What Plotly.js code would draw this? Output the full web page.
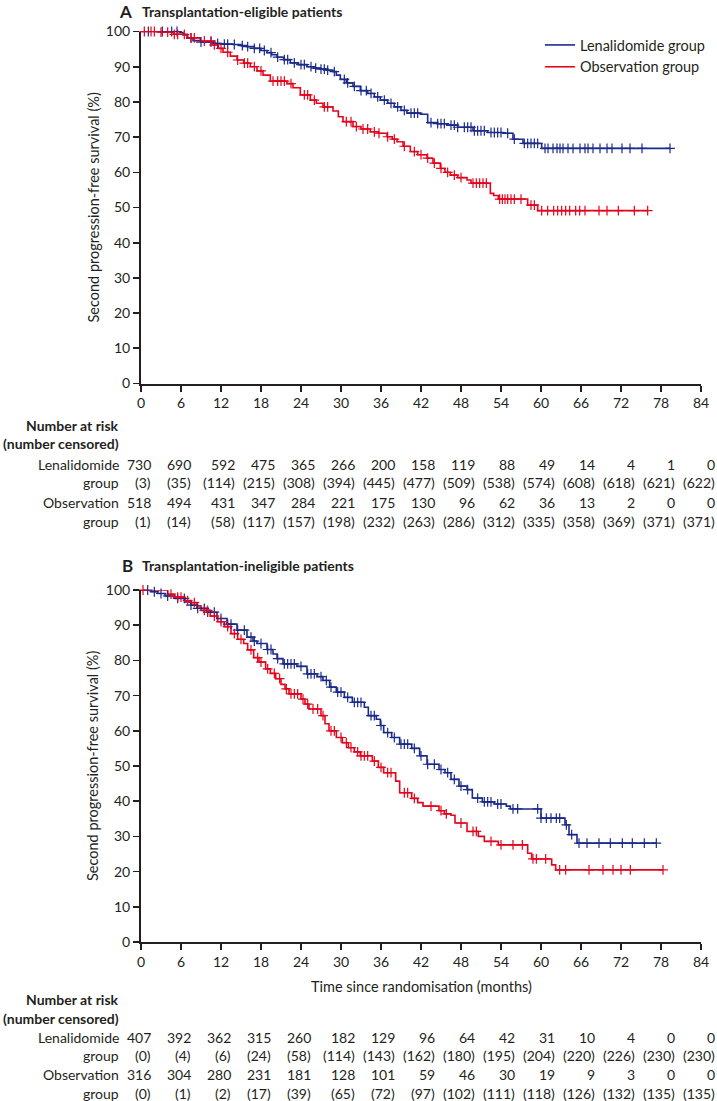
<!DOCTYPE html>
<html>
<head>
<meta charset="utf-8">
<script src="https://cdn.plot.ly/plotly-3.0.1.min.js"></script>
<style>
  html, body { margin: 0; padding: 0; background: #ffffff; }
  #chart { width: 717px; height: 1101px; }
</style>
</head>
<body>
<div id="chart"></div>
<script>
// ---------------- DATA ----------------
const monthTicks = [0, 6, 12, 18, 24, 30, 36, 42, 48, 54, 60, 66, 72, 78, 84];
const seriesNames = ["Lenalidomide group", "Observation group"];

// Panel A – transplantation-eligible: Kaplan-Meier step points (months, %)
const aLenT = [0, 3.5, 5.8, 6.3, 7.0, 7.8, 9.0, 10.8, 12.0, 13.8, 15.0, 15.9, 17.0, 18.0, 18.9, 19.6, 20.4, 21.4, 22.4, 23.6, 24.9, 25.9, 26.9, 27.8, 28.8, 29.3, 29.9, 30.8, 31.8, 32.9, 34.0, 35.0, 35.9, 37.0, 38.0, 39.0, 39.9, 41.9, 43.0, 44.5, 45.9, 47.5, 49.8, 52.0, 54.3, 55.8, 57.3, 60.1, 79.4];
const aLenS = [100, 100, 99.8, 99.0, 98.2, 97.4, 97.0, 96.6, 96.4, 96.3, 96.0, 95.7, 95.2, 94.6, 94.0, 93.4, 92.7, 92.0, 91.1, 90.6, 90.0, 89.6, 89.3, 89.0, 88.6, 87.6, 86.4, 85.4, 84.4, 83.2, 82.4, 81.4, 80.5, 79.6, 78.6, 77.6, 76.8, 76.5, 74.1, 73.8, 73.4, 72.8, 71.8, 71.3, 71.1, 69.4, 68.2, 66.8, 66.8];
const aLenCensor = [1.1, 3.2, 4.6, 5.4, 7.5, 9.0, 10.5, 11.5, 12.5, 13.0, 14.0, 15.2, 16.0, 17.0, 17.8, 18.5, 19.5, 20.5, 21.5, 22.0, 23.0, 24.0, 24.5, 25.5, 26.2, 27.0, 27.5, 28.0, 29.0, 30.5, 31.0, 32.0, 33.0, 33.8, 34.5, 35.5, 36.5, 37.5, 38.5, 39.5, 40.5, 41.0, 41.5, 43.5, 44.5, 45.0, 45.5, 46.5, 47.0, 47.5, 48.5, 49.0, 49.5, 50.0, 50.5, 51.0, 51.5, 52.5, 53.0, 53.5, 54.0, 55.0, 56.0, 57.5, 58.0, 58.5, 59.0, 59.5, 60.6, 61.05, 61.8, 62.4, 62.85, 63.3, 64.05, 64.8, 65.85, 66.6, 67.05, 67.8, 68.85, 69.9, 70.65, 72.15, 73.35, 75.15, 79.35];

const aObsT = [0, 2.9, 4.9, 6.9, 8.9, 10.8, 11.6, 12.3, 13.4, 14.4, 15.4, 16.4, 17.4, 18.3, 19.4, 21.9, 22.8, 23.9, 25.4, 26.3, 27.3, 28.8, 29.6, 30.3, 31.8, 33.0, 34.4, 35.6, 36.9, 37.7, 38.4, 39.3, 40.4, 41.5, 42.9, 43.8, 44.9, 45.6, 46.4, 47.5, 48.9, 49.5, 52.4, 52.9, 53.6, 58.0, 59.5, 76.0];
const aObsS = [100, 99.8, 99.2, 98.2, 97.3, 96.2, 95.2, 94.1, 93.0, 91.9, 91.0, 90.0, 88.8, 87.6, 85.9, 85.2, 84.0, 82.0, 80.5, 79.6, 78.6, 77.4, 75.8, 74.4, 73.0, 72.3, 71.5, 71.1, 70.1, 69.4, 68.7, 67.4, 65.9, 65.0, 64.0, 62.6, 61.1, 60.0, 59.2, 58.5, 57.8, 56.9, 54.0, 53.4, 52.4, 50.7, 49.1, 49.1];
const aObsCensor = [0.5, 1.5, 2.0, 3.0, 4.0, 5.0, 5.5, 6.5, 7.5, 8.0, 9.5, 10.5, 11.0, 12.0, 13.0, 14.5, 15.5, 16.0, 17.0, 18.0, 19.8, 20.5, 21.0, 21.5, 22.5, 24.5, 25.0, 26.0, 27.5, 28.0, 30.8, 31.5, 32.3, 33.3, 34.0, 35.0, 35.7, 37.0, 38.0, 39.5, 41.0, 42.0, 43.0, 44.0, 45.0, 46.0, 47.0, 48.0, 49.8, 50.3, 50.8, 51.3, 51.8, 53.8, 54.2, 54.6, 55.0, 55.5, 56.0, 57.0, 58.5, 59.0, 60.1, 61.0, 61.9, 62.5, 63.1, 63.7, 64.3, 65.2, 65.8, 66.6, 68.7, 69.9, 71.6, 74.0, 76.0];

// Panel B – transplantation-ineligible
const bLenT = [0, 0.6, 1.5, 2.5, 3.6, 5.1, 6.6, 7.5, 8.4, 9.9, 11.4, 12.9, 14.4, 15.9, 16.8, 17.4, 18.9, 19.8, 20.4, 21.3, 23.4, 24.9, 26.4, 27.3, 28.3, 29.3, 30.5, 31.7, 33.5, 34.1, 35.3, 35.9, 36.4, 37.6, 38.8, 40.6, 41.8, 42.9, 44.7, 45.6, 46.5, 47.7, 48.9, 49.7, 51.2, 53.0, 54.8, 55.4, 60.0, 63.6, 64.2, 65.4, 77.3];
const bLenS = [100, 100, 99.5, 99.0, 98.3, 97.6, 96.6, 95.7, 94.8, 93.7, 91.9, 90.3, 88.6, 86.6, 85.5, 84.8, 83.1, 81.8, 80.5, 79.0, 78.3, 76.2, 75.4, 74.3, 72.4, 71.0, 69.5, 68.1, 66.7, 64.3, 63.3, 61.5, 59.5, 58.1, 56.2, 55.0, 52.9, 50.5, 49.0, 48.1, 46.2, 44.3, 43.3, 40.9, 39.8, 39.2, 38.6, 37.8, 35.2, 33.3, 30.5, 28.1, 28.1];
const bLenCensor = [1.0, 2.0, 3.0, 4.0, 5.5, 6.5, 7.5, 8.5, 9.5, 10.0, 11.0, 12.0, 13.0, 13.5, 14.5, 15.5, 16.5, 17.0, 18.0, 19.0, 19.5, 20.5, 21.5, 22.0, 22.5, 23.0, 24.0, 25.0, 25.5, 26.0, 27.0, 27.8, 28.5, 29.5, 30.0, 31.0, 32.0, 32.5, 33.0, 34.5, 35.0, 36.0, 37.0, 38.0, 39.0, 39.5, 40.0, 41.0, 42.0, 43.0, 44.0, 45.0, 46.0, 47.0, 48.0, 49.0, 50.5, 51.5, 52.0, 52.5, 53.5, 54.0, 55.8, 56.5, 59.5, 60.0, 60.8, 61.5, 62.3, 62.8, 63.8, 64.6, 65.7, 66.9, 68.7, 70.4, 72.2, 73.7, 75.5, 77.3];

const bObsT = [0, 3.6, 4.0, 5.0, 6.5, 7.5, 8.4, 9.0, 10.4, 11.5, 12.5, 13.5, 14.5, 15.4, 16.0, 16.9, 17.7, 18.7, 19.4, 20.2, 21.0, 21.6, 22.2, 24.0, 24.6, 25.2, 27.0, 27.6, 28.2, 29.3, 30.2, 31.1, 32.0, 32.9, 34.7, 35.6, 36.4, 38.2, 38.8, 40.6, 41.5, 42.3, 44.7, 45.5, 46.5, 47.1, 48.9, 50.6, 51.5, 53.6, 58.0, 58.6, 61.6, 62.2, 78.3];
const bObsS = [100, 100, 98.8, 98.0, 97.0, 96.4, 95.5, 94.2, 92.6, 91.0, 89.6, 87.6, 86.0, 84.8, 83.0, 80.8, 79.5, 77.6, 76.3, 74.8, 73.2, 71.9, 70.5, 69.0, 67.6, 66.2, 64.3, 62.0, 60.0, 58.1, 56.6, 55.2, 54.0, 52.9, 51.4, 49.6, 48.1, 45.7, 42.4, 40.8, 39.6, 38.6, 37.3, 36.4, 36.0, 33.8, 31.4, 30.0, 28.6, 27.6, 25.2, 23.6, 21.9, 20.5, 20.5];
const bObsCensor = [0.3, 4.5, 5.5, 6.0, 7.0, 8.0, 9.5, 10.0, 11.0, 12.0, 13.0, 14.0, 15.0, 16.5, 17.5, 18.0, 19.0, 20.0, 20.8, 21.8, 22.5, 23.0, 23.5, 24.3, 25.0, 25.8, 26.5, 27.3, 28.5, 29.0, 30.0, 30.8, 31.5, 32.5, 33.0, 33.5, 34.0, 35.0, 36.0, 37.0, 37.5, 39.5, 40.0, 41.0, 43.5, 45.0, 45.8, 48.0, 49.8, 50.3, 52.5, 54.0, 55.8, 57.2, 58.8, 59.3, 60.7, 62.8, 63.7, 67.2, 69.3, 70.8, 72.0, 73.4, 78.3];

// Number at risk (number censored)
const aLenRisk = [730, 690, 592, 475, 365, 266, 200, 158, 119, 88, 49, 14, 4, 1, 0];
const aLenCens = [3, 35, 114, 215, 308, 394, 445, 477, 509, 538, 574, 608, 618, 621, 622];
const aObsRisk = [518, 494, 431, 347, 284, 221, 175, 130, 96, 62, 36, 13, 2, 0, 0];
const aObsCens = [1, 14, 58, 117, 157, 198, 232, 263, 286, 312, 335, 358, 369, 371, 371];
const bLenRisk = [407, 392, 362, 315, 260, 182, 129, 96, 64, 42, 31, 10, 4, 0, 0];
const bLenCens = [0, 4, 6, 24, 58, 114, 143, 162, 180, 195, 204, 220, 226, 230, 230];
const bObsRisk = [316, 304, 280, 231, 181, 128, 101, 59, 46, 30, 19, 9, 3, 0, 0];
const bObsCens = [0, 1, 2, 17, 39, 65, 72, 97, 102, 111, 118, 126, 132, 135, 135];

// ---------------- STYLE / LAYOUT ----------------
const W = 717, H = 1101;
const BLUE = "#1b2a8a", RED = "#e4041c", INK = "#231f20";
const FONT = "Lato, 'DejaVu Sans', sans-serif";
const px = (x) => x / W;            // pixel -> paper x
const py = (y) => 1 - y / H;        // pixel -> paper y

function stepAt(ts, ss, t) {
  let v = ss[0];
  for (let i = 0; i < ts.length; i++) { if (ts[i] <= t) v = ss[i]; else break; }
  return v;
}

function curve(ts, ss, color, name, xa, ya, showLegend) {
  return { type: "scatter", mode: "lines", x: ts, y: ss, xaxis: xa, yaxis: ya, name: name,
           line: { shape: "hv", color: color, width: 1.6 }, showlegend: showLegend,
           hoverinfo: "skip" };
}
function censors(ts, ss, cs, color, xa, ya) {
  return { type: "scatter", mode: "markers", x: cs, y: cs.map(t => stepAt(ts, ss, t)),
           xaxis: xa, yaxis: ya, showlegend: false, cliponaxis: false, hoverinfo: "skip",
           marker: { symbol: "cross-thin", size: 7, color: color, line: { color: color, width: 1.2 } } };
}

const traces = [
  curve(aLenT, aLenS, BLUE, seriesNames[0], "x", "y", true),
  curve(aObsT, aObsS, RED, seriesNames[1], "x", "y", true),
  censors(aLenT, aLenS, aLenCensor, BLUE, "x", "y"),
  censors(aObsT, aObsS, aObsCensor, RED, "x", "y"),
  curve(bLenT, bLenS, BLUE, seriesNames[0], "x2", "y2", false),
  curve(bObsT, bObsS, RED, seriesNames[1], "x2", "y2", false),
  censors(bLenT, bLenS, bLenCensor, BLUE, "x2", "y2"),
  censors(bObsT, bObsS, bObsCensor, RED, "x2", "y2"),
];

const axisCommon = {
  showline: true, linecolor: INK, linewidth: 2, ticks: "outside", ticklen: 6, tickwidth: 1.6,
  tickcolor: INK, showgrid: false, zeroline: false, fixedrange: true,
  tickfont: { family: FONT, size: 14, color: INK }
};
const xDomain = [px(141), px(701)];

const layout = {
  width: W, height: H, margin: { l: 0, r: 0, t: 0, b: 0 },
  paper_bgcolor: "#ffffff", plot_bgcolor: "#ffffff",
  font: { family: FONT, color: INK },
  xaxis: Object.assign({}, axisCommon, { domain: xDomain, range: [0, 84], tickvals: monthTicks, anchor: "y" }),
  yaxis: Object.assign({}, axisCommon, { domain: [py(383.5), py(31.5)], range: [0, 100], dtick: 10, anchor: "x" }),
  xaxis2: Object.assign({}, axisCommon, { domain: xDomain, range: [0, 84], tickvals: monthTicks, anchor: "y2" }),
  yaxis2: Object.assign({}, axisCommon, { domain: [py(942), py(590)], range: [0, 100], dtick: 10, anchor: "x2" }),
  showlegend: true,
  legend: { x: px(540), y: py(29), xanchor: "left", yanchor: "top", bgcolor: "rgba(0,0,0,0)",
            font: { family: FONT, size: 14.5, color: INK }, tracegroupgap: 0, itemwidth: 30 },
  annotations: []
};

const ann = layout.annotations;
function text(t, x, y, opts) {
  ann.push(Object.assign({ text: t, x: x, y: y, xref: "paper", yref: "paper", showarrow: false,
    xanchor: "left", yanchor: "middle", font: { family: FONT, size: 14, color: INK } }, opts || {}));
}

// Panel titles
text("<b>A</b>", px(117), py(11), { font: { family: FONT, size: 17, color: INK } });
text("<b>Transplantation-eligible patients</b>", px(140), py(11), { font: { family: FONT, size: 14, color: INK } });
text("<b>B</b>", px(120), py(565), { font: { family: FONT, size: 17, color: INK } });
text("<b>Transplantation-ineligible patients</b>", px(140), py(565.5), { font: { family: FONT, size: 14, color: INK } });

// Axis titles
text("Second progression-free survival (%)", px(93), py(207.5), { xanchor: "center", textangle: -90, font: { family: FONT, size: 14.5, color: INK } });
text("Second progression-free survival (%)", px(93), py(766), { xanchor: "center", textangle: -90, font: { family: FONT, size: 14.5, color: INK } });
text("Time since randomisation (months)", px(421), py(986), { xanchor: "center", font: { family: FONT, size: 14.5, color: INK } });

// Number-at-risk tables
const canvas = document.createElement("canvas");
const ctx = canvas.getContext("2d");
ctx.font = "14px Lato";
const tw = (s) => ctx.measureText(s).width;

function riskTable(xref, rowY, lenRisk, lenCens, obsRisk, obsCens) {
  const labelX = px(121);
  text("<b>Number at risk</b>", labelX, py(rowY[0]), { xanchor: "right" });
  text("<b>(number censored)</b>", labelX, py(rowY[1]), { xanchor: "right" });
  const labels = ["Lenalidomide", "group", "Observation", "group"];
  labels.forEach((l, i) => text(l, labelX, py(rowY[2 + i]), { xanchor: "right" }));
  const rows = [lenRisk.map(String), lenCens.map(v => "(" + v + ")"), obsRisk.map(String), obsCens.map(v => "(" + v + ")")];
  monthTicks.forEach((m, j) => {
    const widest = Math.max(...rows.map(r => tw(r[j])));
    rows.forEach((r, i) => {
      ann.push({ text: r[j], x: m, y: py(rowY[2 + i]), xref: xref, yref: "paper", showarrow: false,
                 xanchor: "right", yanchor: "middle", xshift: widest / 2,
                 font: { family: FONT, size: 14, color: INK } });
    });
  });
}
riskTable("x", [425, 444, 464, 483, 502, 521], aLenRisk, aLenCens, aObsRisk, aObsCens);
riskTable("x2", [999, 1018, 1037, 1055, 1074, 1093], bLenRisk, bLenCens, bObsRisk, bObsCens);

Plotly.newPlot("chart", traces, layout, { displayModeBar: false, staticPlot: true });
</script>
</body>
</html>
